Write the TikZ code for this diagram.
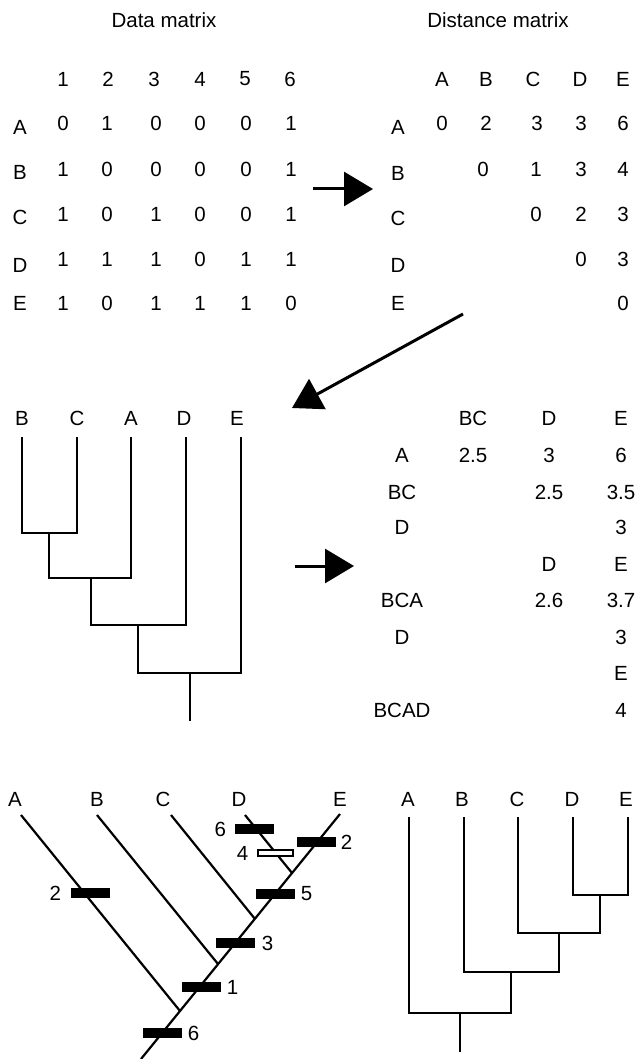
\documentclass[tikz,border=0pt]{standalone}
\usepackage{fontspec}
\setmainfont{Liberation Sans}
\usetikzlibrary{arrows.meta, positioning}

\begin{document}
\begin{tikzpicture}[x=1pt, y=-1pt,
    font=\fontsize{20.5}{24}\selectfont,
    txt/.style={inner sep=0pt, anchor=center},
    branch/.style={draw, line width=2.2pt},
    flow/.style={draw, line width=3pt, -{Triangle[length=29pt,width=34pt]}},
    hit/.style={fill=black, minimum width=39pt, minimum height=10pt, inner sep=0pt},
    loss/.style={draw=black, fill=white, line width=2pt, minimum width=35pt, minimum height=6.5pt, inner sep=0pt}
]
    \useasboundingbox (0,0) rectangle (640,1059);

    % data matrix
    \node[txt] (tdata) at (164,20) {Data matrix};
    \foreach \c/\x in {1/63,2/108,3/154,4/200,5/245,6/290}
        \node[txt] (ch\c) at (\x,79) {\c};
    \foreach \t/\y in {A/127,B/172,C/217,D/265,E/303}
        \node[txt] (tx\t) at (20,\y) {\t};
    \foreach \x/\v [count=\i] in {63/0,107/1,156/0,200/0,246/0,291/1}
        \node[txt] (sA\i) at (\x,123) {\v};
    \foreach \x/\v [count=\i] in {63/1,107/0,156/0,200/0,246/0,291/1}
        \node[txt] (sB\i) at (\x,169) {\v};
    \foreach \x/\v [count=\i] in {63/1,107/0,156/1,200/0,246/0,291/1}
        \node[txt] (sC\i) at (\x,214) {\v};
    \foreach \x/\v [count=\i] in {63/1,107/1,156/1,200/0,246/1,291/1}
        \node[txt] (sD\i) at (\x,259) {\v};
    \foreach \x/\v [count=\i] in {63/1,107/0,156/1,200/1,246/1,291/0}
        \node[txt] (sE\i) at (\x,303) {\v};

    % distance matrix
    \node[txt] (tdist) at (498,20) {Distance matrix};
    \foreach \t/\x in {A/442,B/486,C/533,D/580,E/623}
        \node[txt] (dh\t) at (\x,79) {\t};
    \foreach \t/\y in {A/127,B/173,C/218,D/265,E/303}
        \node[txt] (dr\t) at (398,\y) {\t};
    \foreach \x/\v [count=\i] in {442/0,486/2,537/3,581/3,623/6}
        \node[txt] (dA\i) at (\x,123) {\v};
    \foreach \x/\v [count=\i] in {483/0,536/1,581/3,623/4}
        \node[txt] (dB\i) at (\x,169) {\v};
    \foreach \x/\v [count=\i] in {536/0,581/2,623/3}
        \node[txt] (dC\i) at (\x,214) {\v};
    \foreach \x/\v [count=\i] in {581/0,623/3}
        \node[txt] (dD\i) at (\x,259) {\v};
    \node[txt] (dE1) at (623,303) {0};

    % arrows between the steps
    \coordinate (f1s) at (313,189);
    \coordinate (f1e) at (373,189);
    \coordinate (f2s) at (463,314);
    \coordinate (f2e) at (292,408);
    \coordinate (f3s) at (295,566);
    \coordinate (f3e) at (354,566);
    \draw[flow] (f1s) -- (f1e);
    \draw[flow] (f2s) -- (f2e);
    \draw[flow] (f3s) -- (f3e);

    % clustering tree
    \foreach \t/\x in {B/22,C/77,A/131,D/184,E/237}
        \node[txt] (m\t) at (\x,418) {\t};
    \draw[branch] (22,437) -- (22,533) -- (77,533) -- (77,437);
    \draw[branch] (49,533) -- (49,578) -- (131,578) -- (131,437);
    \draw[branch] (91,578) -- (91,625) -- (186,625) -- (186,437);
    \draw[branch] (138,625) -- (138,673) -- (241,673) -- (241,437);
    \draw[branch] (190,673) -- (190,721);

    % reduced matrices
    \foreach \t/\x in {BC/473,D/549,E/621}
        \node[txt] (rh\t) at (\x,418) {\t};
    \foreach \t/\y [count=\i] in {A/455,BC/492,D/527,BCA/600,D/637,BCAD/710}
        \node[txt] (rr\i) at (402,\y) {\t};
    \foreach \x/\y/\v [count=\i] in {473/455/2.5,549/455/3,621/455/6,
            549/492/2.5,621/492/3.5,621/527/3,549/564/D,621/564/E,
            549/600/2.6,621/600/3.7,621/637/3,621/673/E,621/710/4}
        \node[txt] (rv\i) at (\x,\y) {\v};

    % character tree
    \foreach \t/\x in {A/15,B/97,C/163,D/239,E/340}
        \node[txt] (k\t) at (\x,799) {\t};
    \coordinate (j1) at (180,1011);
    \coordinate (j2) at (218,964);
    \coordinate (j3) at (255,919);
    \coordinate (j4) at (292,873);
    \draw[branch] (141,1059) -- (340,814);
    \draw[branch] (j1) -- (21,815);
    \draw[branch] (j2) -- (97,815);
    \draw[branch] (j3) -- (171,815);
    \draw[branch] (j4) -- (245,815);

    \node[hit] (hA2) at (90,893) {};
    \node[hit] (hD6) at (254,829) {};
    \node[loss] (hD4) at (275,853) {};
    \node[hit] (hE2) at (316,842) {};
    \node[hit] (h5) at (275,894) {};
    \node[hit] (h3) at (235,943) {};
    \node[hit] (h1) at (201,987) {};
    \node[hit] (h6) at (162,1033) {};
    \node[txt, left=9pt of hA2] (nA2) {2};
    \node[txt, left=8pt of hD6] (nD6) {6};
    \node[txt, left=8pt of hD4] (nD4) {4};
    \node[txt, right=5pt of hE2] (nE2) {2};
    \node[txt, right=6pt of h5] (n5) {5};
    \node[txt, right=7pt of h3] (n3) {3};
    \node[txt, right=6pt of h1] (n1) {1};
    \node[txt, right=6pt of h6] (n6) {6};

    % resulting tree
    \foreach \t/\x in {A/408,B/462,C/517,D/572,E/626}
        \node[txt] (p\t) at (\x,799) {\t};
    \draw[branch] (573,817) -- (573,895) -- (628,895) -- (628,817);
    \draw[branch] (600,895) -- (600,933) -- (518,933) -- (518,817);
    \draw[branch] (559,933) -- (559,972) -- (464,972) -- (464,817);
    \draw[branch] (511,972) -- (511,1013) -- (409,1013) -- (409,817);
    \draw[branch] (460,1013) -- (460,1052);
\end{tikzpicture}
\end{document}
